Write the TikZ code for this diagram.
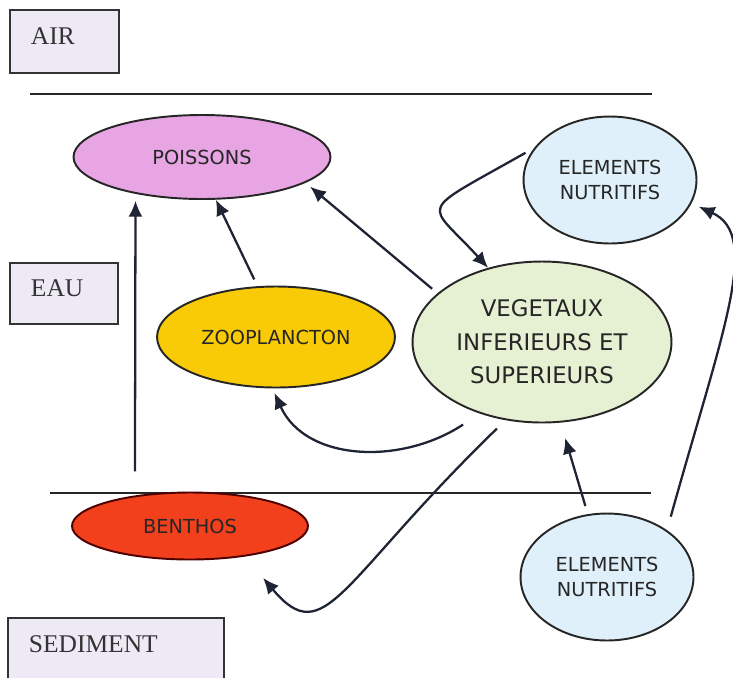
\documentclass[tikz,border=0pt]{standalone}
\usepackage{fontspec}
\setmainfont{Liberation Serif}
\newfontfamily\ellfont{DejaVu Sans}
\usetikzlibrary{arrows.meta,shapes.geometric}
\definecolor{boxlila}{HTML}{EDE9F5}
\definecolor{poissonrose}{HTML}{E7A5E4}
\definecolor{nutribleu}{HTML}{DFF0FA}
\definecolor{zoojaune}{HTML}{F8CB06}
\definecolor{vegevert}{HTML}{E6F0D3}
\definecolor{benthosrouge}{HTML}{F2401C}
\definecolor{fleche}{HTML}{1E2433}
\begin{document}
\begin{tikzpicture}[x=0.02cm,y=-0.02cm,
        zonebox/.style={draw=black!80,line width=1.1pt,fill=boxlila,inner xsep=0.42cm,inner ysep=0pt,
            align=left,anchor=north west,text height=.7em,text depth=.35em,
            font=\fontsize{14.5}{17}\selectfont,text=black!80},
        milieu/.style={draw=black!85,line width=1.1pt},
        compart/.style={ellipse,draw=black!85,line width=1.1pt,inner sep=0pt,align=center,
            font=\ellfont\fontsize{11}{14}\selectfont,text=black!85},
        flux/.style={draw=fleche,line width=1.3pt,-{Latex[length=9pt,width=8pt]}}]
            \useasboundingbox (0,0) rectangle (733,677);
            \clip (0,0) rectangle (733,677);
            \node[zonebox,text width=1.34cm,minimum height=1.26cm] (air) at (9,9) {AIR};
            \node[zonebox,text width=1.32cm,minimum height=1.22cm] (eau) at (9,262) {EAU};
            \node[zonebox,text width=3.48cm,minimum height=1.24cm] (sediment) at (7,617) {SEDIMENT};
            \draw[milieu](30,94)--(652,94);
            \draw[milieu](50,493)--(651,493);
            \node[compart,fill=poissonrose,minimum width=5.14cm,minimum height=1.68cm] (poissons) at (202,157) {POISSONS};
            \node[compart,fill=nutribleu,minimum width=3.46cm,minimum height=2.54cm] (nutrihaut) at (610,180) {ELEMENTS\\NUTRITIFS};
            \node[compart,fill=zoojaune,minimum width=4.76cm,minimum height=2.02cm] (zoo) at (276,337) {ZOOPLANCTON};
            \node[compart,fill=vegevert,minimum width=5.18cm,minimum height=3.22cm,
                font=\ellfont\fontsize{13}{19}\selectfont] (vege) at (542,342) {VEGETAUX\\INFERIEURS ET\\SUPERIEURS};
            \node[compart,fill=benthosrouge,draw=black!70!red,minimum width=4.72cm,minimum height=1.34cm] (benthos) at (190,526) {BENTHOS};
            \node[compart,fill=nutribleu,minimum width=3.46cm,minimum height=2.54cm] (nutribas) at (607,577) {ELEMENTS\\NUTRITIFS};
            \draw[flux,shorten <=0.48cm,shorten >=0.14cm](benthos.151)--(poissons.209);
            \draw[flux,shorten <=0.15cm](zoo.110)--(poissons.-72);
            \draw[flux,shorten <=0.14cm,shorten >=0.12cm](vege.155)--(poissons.-14);
            \draw[flux,shorten <=0.2cm](nutrihaut.157) .. controls +(-120,68) and +(-62,-68) .. (vege.126);
            \draw[flux,shorten <=0.28cm,shorten >=0.16cm](nutribas.38) .. controls +(56,-201) and +(70,32) .. (nutrihaut.-16);
            \draw[flux,shorten <=0.4cm,shorten >=0.1cm](vege.229) .. controls +(-79,52) and +(33,73) .. (zoo.-94);
            \draw[flux,shorten <=0.24cm,shorten >=0.56cm](vege.245) .. controls +(-166,161) and +(80,95) .. (benthos.-29);
            \draw[flux,shorten <=0.17cm,shorten >=0.32cm](nutribas.107)--(vege.-77);
        \end{tikzpicture}
\end{document}
